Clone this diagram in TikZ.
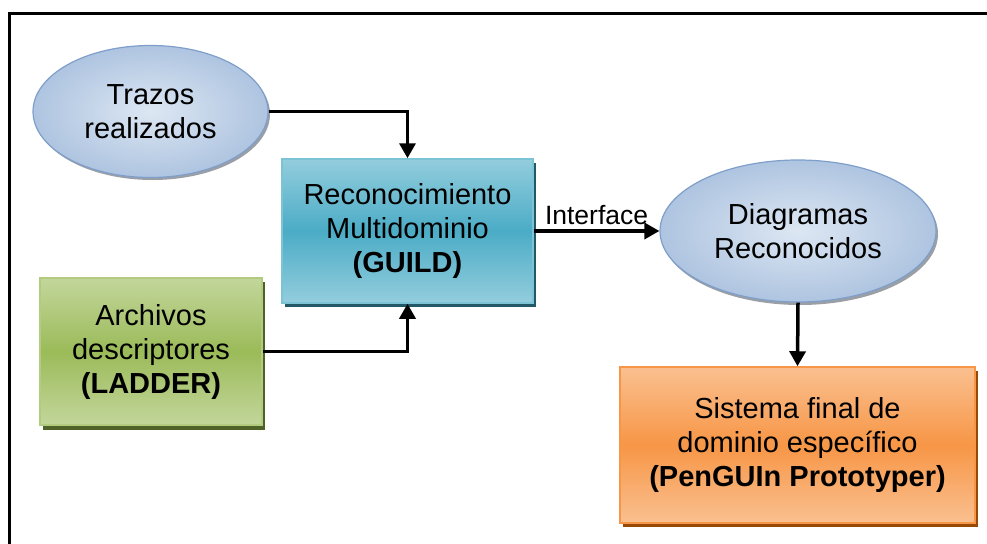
\documentclass[tikz,border=0pt]{standalone}
\usepackage{fontspec}
\setmainfont{Liberation Sans}
\usetikzlibrary{shapes.geometric,arrows.meta}
\definecolor{ellin}{HTML}{DDE7F3}
\definecolor{ellout}{HTML}{AEC4E0}
\definecolor{elldraw}{HTML}{7F9FCB}
\definecolor{ellshadow}{HTML}{9A9FA6}
\definecolor{tealA}{HTML}{93CDDD}
\definecolor{tealB}{HTML}{4BACC6}
\definecolor{tealD}{HTML}{215968}
\definecolor{greenA}{HTML}{C3D69B}
\definecolor{greenB}{HTML}{9BBB59}
\definecolor{greenD}{HTML}{4F6228}
\definecolor{orA}{HTML}{FAC090}
\definecolor{orB}{HTML}{F79646}
\definecolor{orD}{HTML}{984807}
\tikzset{
  txt/.style={font=\fontsize{29}{34}\selectfont, align=center, text=black},
  ellnode/.style={txt, ellipse, inner sep=0pt, draw=elldraw, line width=1.2pt,
     inner color=ellin, outer color=ellout},
  boxnode/.style={txt, rectangle, inner sep=0pt, line width=1.5pt},
  conn/.style={line width=3.5pt, -{Triangle[length=15pt,width=16pt]}}
}
\begin{document}
\begin{tikzpicture}[x=1pt,y=-1pt]
\useasboundingbox (0,0) rectangle (987,543);
% frame
\draw[line width=3pt, line cap=rect] (9.5,543) -- (9.5,13.5) -- (990,13.5);
% shadows
\fill[ellshadow] (152.5,114) ellipse [x radius=117.5pt, y radius=66pt];
\fill[ellshadow] (800,234) ellipse [x radius=138pt, y radius=71pt];
\fill[tealD] (285,163) rectangle (536,307);
\fill[greenD] (43,282) rectangle (265,430);
\fill[orD] (623,371) rectangle (978,527);
% nodes
\node[ellnode, minimum width=235pt, minimum height=132pt] (tr) at (150.5,111.5) {Trazos\\realizados};
\node[ellnode, minimum width=276pt, minimum height=142pt] (dg) at (798,231) {Diagramas\\Reconocidos};
\node[boxnode, draw=tealA!70!tealB, top color=tealA, bottom color=tealA, middle color=tealB,
      minimum width=251pt, minimum height=144pt] (gu) at (407.5,231) {Reconocimiento\\Multidominio\\\textbf{(GUILD)}};
\node[boxnode, draw=greenA!60!greenB, top color=greenA, bottom color=greenA, middle color=greenB,
      minimum width=222pt, minimum height=147pt] (ar) at (151,351.5) {Archivos\\descriptores\\\textbf{(LADDER)}};
\node[boxnode, draw=orB, top color=orA, bottom color=orA, middle color=orB,
      minimum width=355pt, minimum height=156pt] (si) at (797.5,445) {Sistema final de\\dominio específico\\\textbf{(PenGUIn Prototyper)}};
% connectors
\draw[conn] (tr.east) -| (gu.north);
\draw[conn] (ar.east) -| (gu.south);
\draw[conn] (gu.east) -- node[above=4pt, font=\fontsize{26.5}{30}\selectfont, inner sep=0pt] (lab) {Interface} (dg.west);
\draw[conn] (dg.south) -- (si.north);
\end{tikzpicture}
\end{document}
